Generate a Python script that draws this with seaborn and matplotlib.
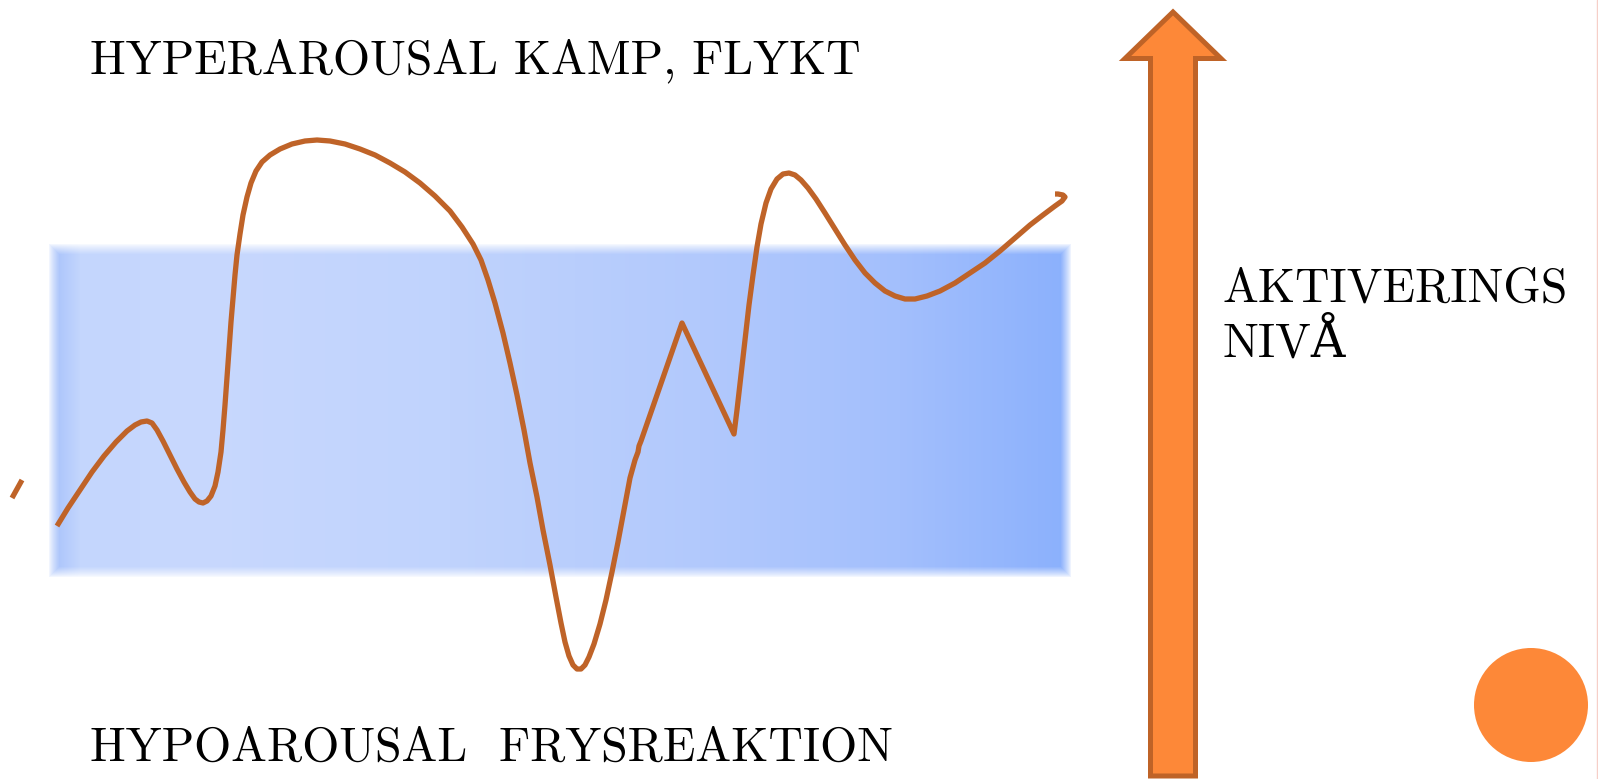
import numpy as np
import seaborn as sns
import matplotlib.pyplot as plt
import matplotlib.colors as mcolors
from matplotlib.patches import Polygon, Circle

# arousal curve, traced in slide pixels (x right, y down)
curve_x = [57, 68, 80, 92, 104, 116, 127, 135, 141, 147, 152, 157, 163, 170, 177, 184,
           190, 195, 199, 203, 207, 211, 215, 218, 221, 223, 225, 227, 229, 231, 233, 235,
           237, 240, 243, 247, 251, 256, 262, 270, 280, 292, 305, 317, 330, 345, 360, 375,
           390, 405, 420, 435, 450, 462, 473, 481, 488, 495, 503, 510, 517, 524, 530, 537,
           543, 550, 556, 561, 565, 569, 573, 577, 581, 585, 589, 594, 600, 606, 612, 618,
           624, 630, 635, 638, 639, 641, 682, 734, 737, 741, 745, 749, 753, 757, 761, 766,
           771, 777, 783, 789, 795, 801, 808, 816, 825, 835, 845, 855, 865, 875, 885, 895,
           905, 915, 927, 940, 955, 970, 985, 1000, 1015, 1030, 1043, 1055, 1062, 1065,
           1063, 1058, 1055]
curve_y = [526, 508, 490, 472, 456, 442, 431, 425, 422, 421, 423, 430, 441, 455, 469, 482,
           492, 499, 502, 503, 501, 496, 486, 472, 452, 430, 405, 378, 350, 322, 298, 275,
           255, 234, 215, 197, 183, 171, 162, 155, 149, 144, 141, 140, 141, 144, 149, 155,
           163, 172, 183, 196, 211, 227, 244, 260, 280, 303, 333, 363, 395, 430, 463, 497,
           530, 565, 597, 623, 642, 656, 665, 669, 669, 665, 657, 644, 624, 600, 572, 542,
           510, 478, 460, 452, 446, 441, 323, 434, 410, 375, 340, 305, 275, 247, 224, 203,
           189, 179, 174, 173, 175, 180, 188, 199, 213, 229, 245, 260, 273, 283, 291, 296,
           299, 299, 296, 291, 283, 273, 263, 251, 238, 225, 215, 206, 201, 197,
           195, 194, 194]

# stray stroke at the left margin
stray_x = [12, 22]
stray_y = [498, 480]

top_label = "HYPERAROUSAL KAMP, FLYKT"
bottom_label = "HYPOAROUSAL  FRYSREAKTION"
side_lines = ["AKTIVERINGS", "NIVÅ"]

line_color = "#bf6328"
orange = "#fd8838"
orange_edge = "#bf6327"

sns.set_theme(style="white")
plt.rcParams['font.family'] = ['cmr10', 'DejaVu Serif']

fig = plt.figure(figsize=(15.98, 7.79), dpi=100)
ax = fig.add_axes([0, 0, 1, 1])
ax.set_xlim(0, 1598)
ax.set_ylim(779, 0)
ax.axis('off')

# blue band with horizontal gradient and soft edges
x0, x1, y0, y1 = 48, 1072, 243, 578
W, H = x1 - x0, y1 - y0
stops = [48, 80, 200, 450, 700, 900, 1072]
cols = [mcolors.to_rgb(c) for c in
        ["#a3bffb", "#c4d6fd", "#c8d8fd", "#c0d3fd", "#b2c9fc", "#a3bffc", "#8ab0fc"]]
xs = np.arange(W) + x0
rgb = np.stack([np.interp(xs, stops, [c[i] for c in cols]) for i in range(3)], axis=-1)
img = np.ones((H, W, 4))
img[:, :, :3] = rgb[None, :, :]
dx = np.minimum(np.arange(W), W - 1 - np.arange(W))
dy = np.minimum(np.arange(H), H - 1 - np.arange(H))
soft = np.clip(np.minimum(dx[None, :], dy[:, None]) / 11.0, 0, 1)
img[:, :, 3] = soft ** 0.8
ax.imshow(img, extent=[x0, x1, y1, y0], interpolation='bilinear', aspect='auto', zorder=1)

sns.lineplot(x=curve_x, y=curve_y, sort=False, estimator=None, color=line_color,
             linewidth=3.8, ax=ax, zorder=3)
sns.lineplot(x=stray_x, y=stray_y, sort=False, estimator=None, color=line_color,
             linewidth=3.8, ax=ax, zorder=3)
for l in ax.lines:
    l.set_solid_capstyle('butt')
    l.set_solid_joinstyle('round')

# up arrow
arrow = Polygon([(1150.5, 776), (1150.5, 58.5), (1125, 58.5), (1173, 12),
                 (1221, 58.5), (1195.5, 58.5), (1195.5, 776)], closed=True,
                facecolor=orange, edgecolor=orange_edge, linewidth=3.6, zorder=4)
ax.add_patch(arrow)

ax.add_patch(Circle((1531, 705), 57, facecolor=orange, edgecolor='none', zorder=4))
ax.axvline(1597, color="#f6cfc8", linewidth=1)

fs = 34.4
ax.text(90, 73, top_label, fontsize=fs, color='black', va='baseline', ha='left')
ax.text(90, 761, bottom_label, fontsize=fs, color='black', va='baseline', ha='left')
ax.text(1223, 302, side_lines[0], fontsize=fs, color='black', va='baseline', ha='left')
ax.text(1223, 357, side_lines[1], fontsize=fs, color='black', va='baseline', ha='left')

fig.savefig("out.png", dpi=100)
